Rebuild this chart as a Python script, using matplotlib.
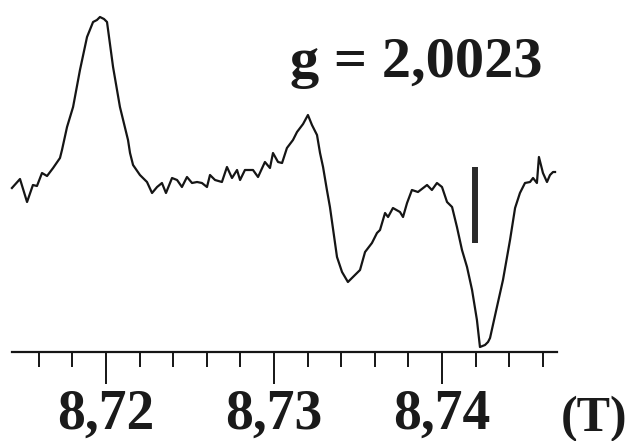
import numpy as np
import matplotlib
matplotlib.use('Agg')
from matplotlib import pyplot as plt
from matplotlib.ticker import FixedLocator, FuncFormatter

# champ magnetique (T) et signal RPE (unites arbitraires)
field = [8.71440, 8.71488, 8.71530, 8.71565, 8.71589, 8.71619, 8.71649, 8.71685,
         8.71726, 8.71738, 8.71768, 8.71804, 8.71845, 8.71887, 8.71923, 8.71946,
         8.71964, 8.71988, 8.72006, 8.72042, 8.72083, 8.72131, 8.72143, 8.72161,
         8.72202, 8.72244, 8.72274, 8.72304, 8.72333, 8.72357, 8.72393, 8.72423,
         8.72452, 8.72482, 8.72512, 8.72542, 8.72571, 8.72601, 8.72619, 8.72649,
         8.72690, 8.72720, 8.72750, 8.72780, 8.72798, 8.72827, 8.72875, 8.72905,
         8.72946, 8.72976, 8.72994, 8.73024, 8.73048, 8.73077, 8.73113, 8.73137,
         8.73173, 8.73202, 8.73226, 8.73256, 8.73274, 8.73292, 8.73315, 8.73333,
         8.73375, 8.73405, 8.73440, 8.73476, 8.73512, 8.73542, 8.73583, 8.73613,
         8.73631, 8.73661, 8.73679, 8.73708, 8.73750, 8.73768, 8.73792, 8.73821,
         8.73857, 8.73911, 8.73940, 8.73970, 8.74000, 8.74030, 8.74060, 8.74089,
         8.74119, 8.74149, 8.74179, 8.74208, 8.74226, 8.74256, 8.74274, 8.74286,
         8.74327, 8.74363, 8.74405, 8.74435, 8.74464, 8.74494, 8.74524, 8.74542,
         8.74565, 8.74577, 8.74601, 8.74625, 8.74643, 8.74661, 8.74673]
signal = [164, 173, 150, 167, 166, 179, 176, 184,
          194, 202, 225, 245, 282, 315, 330, 332,
          335, 333, 330, 285, 245, 212, 199, 187,
          177, 170, 159, 165, 169, 159, 174, 172,
          165, 175, 169, 170, 169, 165, 177, 172,
          170, 185, 174, 182, 172, 182, 182, 175,
          190, 184, 199, 190, 189, 204, 212, 220,
          228, 237, 227, 217, 199, 185, 162, 145,
          95, 80, 70, 76, 82, 100, 109, 119,
          122, 139, 135, 144, 140, 135, 149, 162,
          160, 167, 162, 169, 165, 150, 145, 125,
          102, 85, 62, 32, 5, 7, 10, 14,
          45, 72, 112, 144, 159, 169, 170, 174,
          169, 195, 179, 170, 177, 180, 180]

major_ticks = [8.72, 8.73, 8.74]
minor_ticks = [8.716, 8.718, 8.722, 8.724, 8.726, 8.728, 8.732, 8.734,
               8.736, 8.738, 8.742, 8.744, 8.746]
g_label = 'g = 2,0023'
unit_label = '(T)'
marker_x = 8.74196
marker_y = [109, 185]

serif = ['Liberation Serif', 'DejaVu Serif']

fig = plt.figure(figsize=(6.33, 4.41), dpi=100)
ax = fig.add_axes([0, 0, 1, 1])

ax.plot(field, signal, color='#151515', lw=1.6)
ax.plot([marker_x, marker_x], marker_y, color='#2a2a2a', lw=4.3, solid_capstyle='butt')

ax.set_xlim(8.71369, 8.75137)
ax.set_ylim(-89, 352)

for s in ['top', 'left', 'right']:
    ax.spines[s].set_visible(False)
ax.spines['bottom'].set_position(('data', 0))
ax.spines['bottom'].set_bounds(8.7144, 8.74685)
ax.spines['bottom'].set_linewidth(1.6)
ax.spines['bottom'].set_color('#151515')

ax.xaxis.set_major_locator(FixedLocator(major_ticks))
ax.xaxis.set_minor_locator(FixedLocator(minor_ticks))
ax.xaxis.set_major_formatter(FuncFormatter(lambda v, p: ('%.2f' % v).replace('.', ',')))
ax.tick_params(axis='x', which='major', direction='out', length=23, width=1.4,
               color='#151515', pad=3.5)
ax.tick_params(axis='x', which='minor', direction='out', length=11, width=1.4,
               color='#151515')
ax.set_yticks([])
for lab in ax.get_xticklabels():
    lab.set_family(serif)
    lab.set_fontsize(40)
    lab.set_fontweight('bold')
    lab.set_color('#1a1a1a')

fig.text(561 / 633, 1 - 431 / 441, unit_label, family=serif, fontsize=36,
         fontweight='bold', color='#1a1a1a', va='baseline', ha='left')
fig.text(290 / 633, 1 - 77 / 441, g_label, family=serif, fontsize=42,
         fontweight='bold', color='#1a1a1a', va='baseline', ha='left')

fig.savefig('out.png', dpi=100)
